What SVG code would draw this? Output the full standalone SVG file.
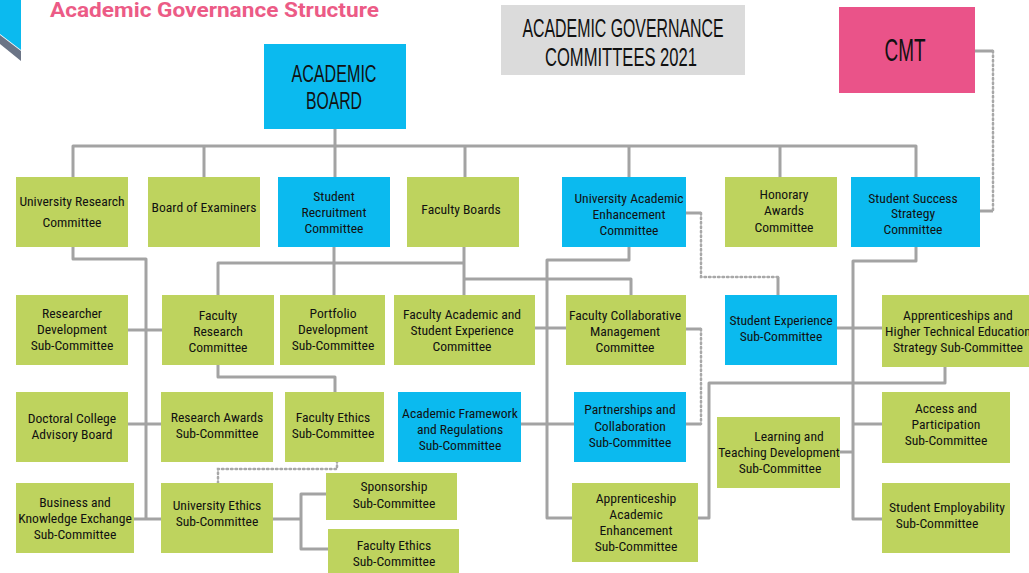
<svg xmlns="http://www.w3.org/2000/svg" width="1029" height="573" viewBox="0 0 1029 573">
<style>
.g{fill:#BED35E}
.b{fill:#0BBAEF}
.t{font-family:"Liberation Sans Narrow","Roboto Condensed","Liberation Sans",sans-serif;font-size:13.6px;fill:#111;text-anchor:middle}
.big{font-family:"Liberation Sans Narrow","Liberation Sans",sans-serif;font-size:26px;fill:#111;text-anchor:middle}
.c{fill:none;stroke:#A3A3A3;stroke-width:3;stroke-linejoin:round}
.d{fill:none;stroke:#A8A8A8;stroke-width:2.5;stroke-dasharray:1.5 3;stroke-linecap:round}
</style>
<rect width="1029" height="573" fill="#fff"/>
<g id="logo">
<polygon points="0,0 21,0 21,50 0,34" fill="#0BBAEF"/>
<polygon points="0,35 21,51 21,61 0,44" fill="#6B7486"/>
</g>
<text x="50" y="17" font-family="Roboto,'Liberation Sans',sans-serif" font-weight="bold" font-size="21" fill="#EC5B86" textLength="329" lengthAdjust="spacingAndGlyphs">Academic Governance Structure</text>

<g id="connectors">
<path class="c" d="M335,129V177M73,177V146H916V177M204,146V177M465,146V177M629,146V177M780,146V177"/>
<path class="c" d="M73,247V259H146V519M128,330H162M128,424H161M134,519H161"/>
<path class="c" d="M334,247V295M218,295V263H464M464,247V295M464,279H631V295"/>
<path class="c" d="M629,247V260H547V518H572M535,328H566M521,424H574"/>
<path class="c" d="M218,365V377H335V392"/>
<path class="c" d="M916,247V261H853V519H882M837,328H882M853,424H882M840,452H853"/>
<path class="c" d="M945,367V383H709V518H698"/>
<path class="c" d="M273,519H301M326,494H301V549H328"/>
<path class="c" d="M975,51H993M980,211H993M686,213H701M778,277V295M686,329H701M686,424H701"/>
<path class="d" d="M993,51V211"/>
<path class="d" d="M701,213V277H778"/>
<path class="d" d="M701,329V424"/>
<path class="d" d="M218,483V469H337V462"/>
</g>

<g id="title-box">
<rect x="501" y="5" width="244" height="70" fill="#DBDBDB"/>
<text class="big" x="623" y="37" textLength="201" lengthAdjust="spacingAndGlyphs">ACADEMIC GOVERNANCE</text>
<text class="big" x="621" y="66" textLength="152" lengthAdjust="spacingAndGlyphs">COMMITTEES 2021</text>
</g>
<g id="cmt">
<rect x="839" y="7" width="136" height="86" fill="#EA5389"/>
<text class="big" x="905" y="61" style="font-size:31px" textLength="41" lengthAdjust="spacingAndGlyphs">CMT</text>
</g>
<g id="academic-board">
<rect class="b" x="264" y="44" width="142" height="85"/>
<text class="big" x="334" y="82" style="font-size:23px" textLength="85" lengthAdjust="spacingAndGlyphs">ACADEMIC</text>
<text class="big" x="334" y="109" style="font-size:23px" textLength="56" lengthAdjust="spacingAndGlyphs">BOARD</text>
</g>

<g id="university-research-committee"><rect class="g" x="16" y="177" width="112" height="70"/>
<text class="t" x="72" y="206">University Research</text><text class="t" x="72" y="227">Committee</text></g>
<g id="board-of-examiners"><rect class="g" x="148" y="177" width="112" height="70"/>
<text class="t" x="204" y="212">Board of Examiners</text></g>
<g id="student-recruitment-committee"><rect class="b" x="278" y="177" width="112" height="70"/>
<text class="t" x="334" y="201">Student</text><text class="t" x="334" y="217">Recruitment</text><text class="t" x="334" y="233">Committee</text></g>
<g id="faculty-boards"><rect class="g" x="407" y="177" width="112" height="70"/>
<text class="t" x="461" y="214">Faculty Boards</text></g>
<g id="university-academic-enhancement-committee"><rect class="b" x="562" y="177" width="124" height="70"/>
<text class="t" x="629" y="203">University Academic</text><text class="t" x="629" y="219">Enhancement</text><text class="t" x="629" y="235">Committee</text></g>
<g id="honorary-awards-committee"><rect class="g" x="725" y="177" width="112" height="70"/>
<text class="t" x="784" y="199">Honorary</text><text class="t" x="784" y="215">Awards</text><text class="t" x="784" y="232">Committee</text></g>
<g id="student-success-strategy-committee"><rect class="b" x="851" y="177" width="129" height="70"/>
<text class="t" x="913" y="203">Student Success</text><text class="t" x="913" y="218">Strategy</text><text class="t" x="913" y="234">Committee</text></g>

<g id="researcher-development"><rect class="g" x="16" y="295" width="112" height="70"/>
<text class="t" x="72" y="318">Researcher</text><text class="t" x="72" y="334">Development</text><text class="t" x="72" y="350">Sub-Committee</text></g>
<g id="faculty-research-committee"><rect class="g" x="162" y="295" width="112" height="70"/>
<text class="t" x="218" y="320">Faculty</text><text class="t" x="218" y="336">Research</text><text class="t" x="218" y="352">Committee</text></g>
<g id="portfolio-development"><rect class="g" x="280" y="295" width="105" height="70"/>
<text class="t" x="333" y="318">Portfolio</text><text class="t" x="333" y="334">Development</text><text class="t" x="333" y="350">Sub-Committee</text></g>
<g id="faculty-academic-student-experience"><rect class="g" x="394" y="295" width="141" height="70"/>
<text class="t" x="462" y="319">Faculty Academic and</text><text class="t" x="462" y="335">Student Experience</text><text class="t" x="462" y="351">Committee</text></g>
<g id="faculty-collaborative-management"><rect class="g" x="566" y="295" width="120" height="70"/>
<text class="t" x="625" y="320">Faculty Collaborative</text><text class="t" x="625" y="336">Management</text><text class="t" x="625" y="352">Committee</text></g>
<g id="student-experience"><rect class="b" x="725" y="295" width="112" height="70"/>
<text class="t" x="781" y="325">Student Experience</text><text class="t" x="781" y="341">Sub-Committee</text></g>
<g id="apprenticeships-hte"><rect class="g" x="882" y="295" width="150" height="72"/>
<text class="t" x="958" y="320">Apprenticeships and</text><text class="t" x="958" y="336">Higher Technical Education</text><text class="t" x="958" y="352">Strategy Sub-Committee</text></g>

<g id="doctoral-college"><rect class="g" x="16" y="392" width="112" height="70"/>
<text class="t" x="72" y="423">Doctoral College</text><text class="t" x="72" y="439">Advisory Board</text></g>
<g id="research-awards"><rect class="g" x="161" y="392" width="112" height="70"/>
<text class="t" x="217" y="422">Research Awards</text><text class="t" x="217" y="438">Sub-Committee</text></g>
<g id="faculty-ethics-1"><rect class="g" x="285" y="392" width="99" height="70"/>
<text class="t" x="333" y="422">Faculty Ethics</text><text class="t" x="333" y="438">Sub-Committee</text></g>
<g id="academic-framework"><rect class="b" x="398" y="392" width="123" height="70"/>
<text class="t" x="460" y="418">Academic Framework</text><text class="t" x="460" y="434">and Regulations</text><text class="t" x="460" y="450">Sub-Committee</text></g>
<g id="partnerships-collaboration"><rect class="b" x="574" y="392" width="112" height="70"/>
<text class="t" x="630" y="414">Partnerships and</text><text class="t" x="630" y="431">Collaboration</text><text class="t" x="630" y="447">Sub-Committee</text></g>
<g id="learning-teaching"><rect class="g" x="717" y="417" width="123" height="71"/>
<text class="t" x="789" y="441">Learning and</text><text class="t" x="779" y="457">Teaching Development</text><text class="t" x="780" y="473">Sub-Committee</text></g>
<g id="access-participation"><rect class="g" x="882" y="392" width="128" height="71"/>
<text class="t" x="946" y="413">Access and</text><text class="t" x="946" y="429">Participation</text><text class="t" x="946" y="445">Sub-Committee</text></g>

<g id="business-knowledge-exchange"><rect class="g" x="16" y="483" width="118" height="70"/>
<text class="t" x="75" y="507">Business and</text><text class="t" x="75" y="523">Knowledge Exchange</text><text class="t" x="75" y="539">Sub-Committee</text></g>
<g id="university-ethics"><rect class="g" x="161" y="483" width="112" height="70"/>
<text class="t" x="217" y="510">University Ethics</text><text class="t" x="217" y="526">Sub-Committee</text></g>
<g id="sponsorship"><rect class="g" x="326" y="473" width="131" height="47"/>
<text class="t" x="394" y="491">Sponsorship</text><text class="t" x="394" y="508">Sub-Committee</text></g>
<g id="faculty-ethics-2"><rect class="g" x="328" y="529" width="131" height="46"/>
<text class="t" x="394" y="550">Faculty Ethics</text><text class="t" x="394" y="566">Sub-Committee</text></g>
<g id="apprenticeship-academic-enhancement"><rect class="g" x="572" y="483" width="126" height="79"/>
<text class="t" x="636" y="503">Apprenticeship</text><text class="t" x="636" y="519">Academic</text><text class="t" x="636" y="535">Enhancement</text><text class="t" x="636" y="551">Sub-Committee</text></g>
<g id="student-employability"><rect class="g" x="882" y="483" width="128" height="70"/>
<text class="t" x="947" y="512">Student Employability</text><text class="t" x="937" y="528">Sub-Committee</text></g>
</svg>
